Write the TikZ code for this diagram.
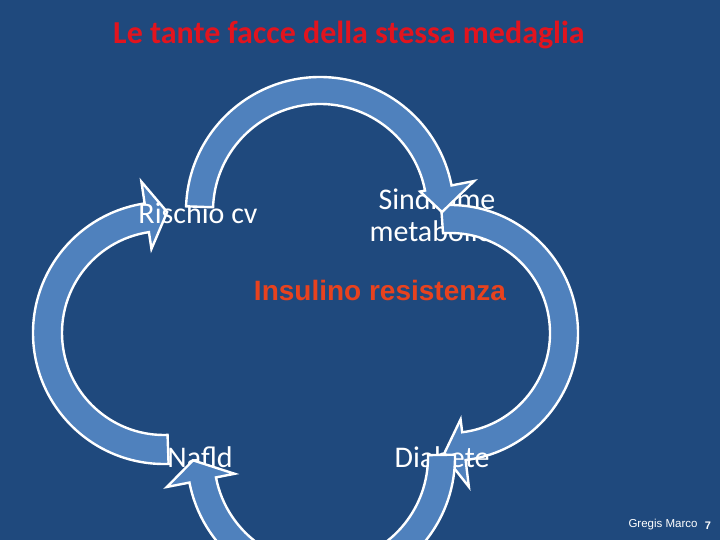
\documentclass[tikz,border=0pt]{standalone}
\usepackage{fontspec}
\setmainfont{Carlito}
\newfontfamily\arialfont{Liberation Sans}
\usetikzlibrary{positioning,calc}
\definecolor{slideblue}{RGB}{31,73,125}
\definecolor{arrowblue}{RGB}{79,129,189}
\definecolor{titlered}{RGB}{226,20,30}
\definecolor{keyorange}{RGB}{232,66,30}
% center, start, shaft end, tip angle, r in, r out, head in, head out, tip r
\newcommand{\circarrow}[9]{%
  \filldraw[arrowshape, shift={(#1)}] (#2:#6pt) arc[start angle=#2, end angle=#3, radius=#6pt]
    -- (#3:#8pt) -- (#4:#9pt) -- (#3:#7pt) -- (#3:#5pt)
    arc[start angle=#3, end angle=#2, radius=#5pt] -- cycle;}
\tikzset{
  arrowshape/.style={fill=arrowblue, draw=white, line width=2.4pt, line join=miter},
  label/.style={text=white, font=\fontsize{30}{32}\selectfont, align=center, inner sep=0pt}
}
\begin{document}
\begin{tikzpicture}[x=1pt, y=1pt]
        \fill[slideblue] (0,0) rectangle (720,540);
        \useasboundingbox (0,0) rectangle (720,540);
        \clip (0,0) rectangle (720,540);
        %centers
        \coordinate (cright) at (450,207);
        \coordinate (cbottom) at (321,83);
        \coordinate (cleft) at (164,207);
        \coordinate (ctop) at (320,329);
        %title
        \node[text=titlered, font=\fontsize{32}{38}\selectfont\bfseries] (title) at (349,505) {Le tante facce della stessa medaglia};
        \node[text=keyorange, font=\arialfont\fontsize{28}{32}\selectfont\bfseries] (insulino) at (380,250) {Insulino resistenza};
        %arrows and labels, back to front
        \circarrow{cleft}{272}{98.5}{88.5}{102}{131}{85}{153}{121}
        \node[label] (sindrome) at (437,325) {Sindrome\\metabolica};
        \circarrow{cright}{94}{-83}{-93}{100}{128}{87}{155}{122}
        \node[label] (rischio) at (198,327) {Rischio cv};
        \node[label] (nafld) at (200,83) {Nafld};
        \node[label] (diabete) at (442,83) {Diabete};
        \circarrow{cbottom}{1}{-169}{-178.5}{107}{134}{88}{157}{128}
        \circarrow{ctop}{178}{11}{-0.5}{107}{134}{102}{157}{122}
        %footer
        \node[text=white, font=\arialfont\fontsize{11.5}{13}\selectfont, inner sep=0pt] (autore) at (663,15) {Gregis Marco};
        \node[text=white, font=\arialfont\fontsize{11}{13}\selectfont\bfseries, inner sep=0pt] (pagina) at (708,14) {7};
\end{tikzpicture}
\end{document}
